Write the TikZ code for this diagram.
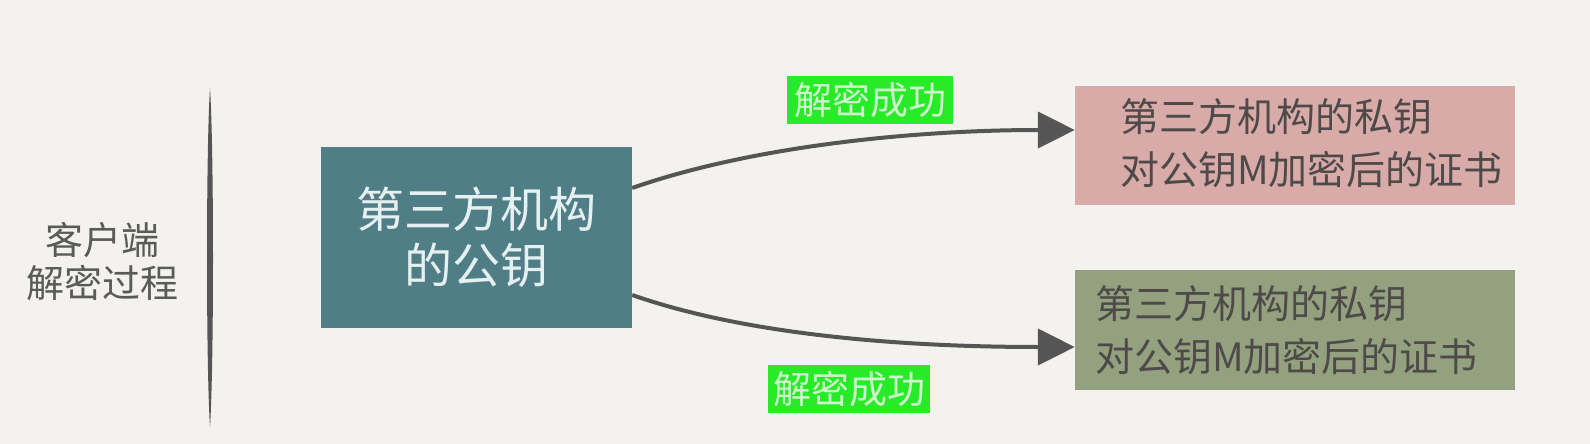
\documentclass[tikz,border=0pt]{standalone}
\usepackage{fontspec}
\setmainfont{Noto Sans CJK SC}
\usetikzlibrary{arrows.meta,calc}
\definecolor{bgc}{RGB}{243,242,238}
\definecolor{tealc}{RGB}{79,126,135}
\definecolor{tealtext}{RGB}{230,240,240}
\definecolor{pinkc}{RGB}{216,171,168}
\definecolor{olivec}{RGB}{147,161,127}
\definecolor{boxtextc}{RGB}{78,74,74}
\definecolor{lablc}{RGB}{40,235,40}
\definecolor{labltext}{RGB}{205,246,205}
\definecolor{linec}{RGB}{85,85,85}
\definecolor{sidetext}{RGB}{90,90,90}
\tikzset{
  keybox/.style={fill=tealc, draw=none, minimum width=311pt, minimum height=181pt,
    inner sep=0pt, align=center, text=tealtext, font=\fontsize{48}{56}\selectfont},
  certbox/.style={draw=none, minimum width=440pt, inner sep=0pt},
  certtext/.style={anchor=west, inner sep=0pt, align=left, text=boxtextc,
    font=\fontsize{39}{53}\selectfont},
  oklabel/.style={fill=lablc, minimum width=166pt, minimum height=48pt, inner sep=0pt,
    text=labltext, font=\fontsize{38}{40}\selectfont},
  sidelabel/.style={align=center, inner sep=0pt, text=sidetext,
    font=\fontsize{38}{43}\selectfont},
  conn/.style={draw=linec, line width=4pt,
    -{Triangle[length=37pt,width=36pt,fill=linec]}}
}
\begin{document}
\begin{tikzpicture}[x=1pt,y=-1pt]
\useasboundingbox (0,0) rectangle (1590,444);
\fill[bgc] (0,0) rectangle (1590,444);

% side title and divider
\node[sidelabel] (side) at (102,261.5) {客户端\\解密过程};
\coordinate (vtop) at (210,88);
\coordinate (vbot) at (210,427);
\fill[linec] (vtop) .. controls (214,150) and (214,365) .. (vbot)
  .. controls (206,365) and (206,150) .. (vtop);

% boxes
\node[keybox] (key) at (476.5,237.5) {第三方机构\\的公钥};
\node[certbox, fill=pinkc, minimum height=119pt] (pink) at (1295,145.5) {};
\node[certtext] (pinktext) at ([xshift=45pt,yshift=2pt]pink.west) {第三方机构的私钥\\对公钥M加密后的证书};
\node[certbox, fill=olivec, minimum height=120pt] (olive) at (1295,330) {};
\node[certtext] (olivetext) at ([xshift=20pt]olive.west) {第三方机构的私钥\\对公钥M加密后的证书};

% labels
\node[oklabel] (ok1) at (870,100) {解密成功};
\node[oklabel, minimum width=162pt] (ok2) at (849,389) {解密成功};

% connectors
\coordinate (s1) at ([yshift=49.5pt]key.east);
\coordinate (s2) at ([yshift=-57.5pt]key.east);
\coordinate (e1) at ([yshift=15.5pt]pink.west);
\coordinate (e2) at ([yshift=-17pt]olive.west);
\draw[conn] (s1) .. controls ($(s1)+(120,-42)$) and ($(e1)+(-160,0)$) .. (e1);
\draw[conn] (s2) .. controls ($(s2)+(120,42)$) and ($(e2)+(-160,0)$) .. (e2);
\end{tikzpicture}
\end{document}
